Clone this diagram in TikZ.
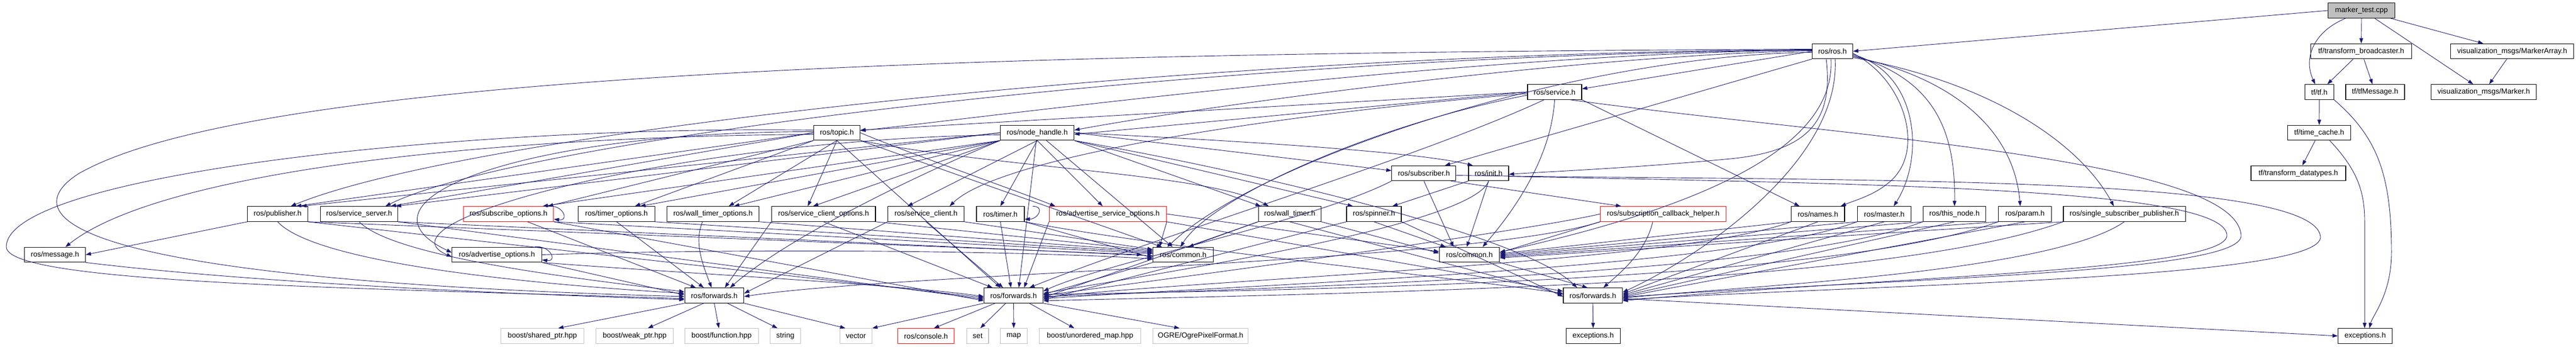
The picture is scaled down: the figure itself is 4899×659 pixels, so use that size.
\documentclass[tikz,border=0pt]{standalone}
\usepackage{fontspec}
\setmainfont{Liberation Sans}
\usetikzlibrary{arrows.meta}
\definecolor{edgec}{HTML}{191970}
\definecolor{grayb}{HTML}{BFBFBF}
\definecolor{fillg}{HTML}{BFBFBF}
\newcommand\labfont{\fontsize{14}{16}\selectfont}
\begin{document}
\begin{tikzpicture}[x=1pt,y=-1pt,
  box/.style={draw=black, line width=1.1pt, fill=white, minimum height=28.5pt, inner sep=0pt, font=\labfont, text=black},
  gbox/.style={box, draw=grayb},
  rbox/.style={box, draw=red},
  edge/.style={draw=edgec, line width=0.9pt, -{Triangle[length=10pt,width=7pt]}}]
\useasboundingbox[fill=white] (0,0) rectangle (4899,659);
% rank 0-4
\node[box, fill=fillg, minimum width=127pt] (mt) at (4491,20) {marker\_test.cpp};
\node[box, minimum width=77pt] (ros) at (3485,97.5) {ros/ros.h};
\node[box, minimum width=192pt] (tfb) at (4490.5,97.5) {tf/transform\_broadcaster.h};
\node[box, minimum width=234pt] (mka) at (4777.7,97.5) {visualization\_msgs/MarkerArray.h};
\node[box, minimum width=103pt] (svc) at (2956.5,175) {ros/service.h};
\node[box, minimum width=55pt] (tfh) at (4410.9,175) {tf/tf.h};
\node[box, minimum width=112pt] (tfm) at (4516.9,175) {tf/tfMessage.h};
\node[box, minimum width=200pt] (mk) at (4723.5,175) {visualization\_msgs/Marker.h};
\node[box, minimum width=88pt] (topic) at (1591.6,252.5) {ros/topic.h};
\node[box, minimum width=140pt] (nh) at (1972.6,252.5) {ros/node\_handle.h};
\node[box, minimum width=120pt] (tc) at (4410.6,252.5) {tf/time\_cache.h};
\node[box, minimum width=122pt] (sub) at (2707.9,329.5) {ros/subscriber.h};
\node[box, minimum width=76pt] (init) at (2831,329.5) {ros/init.h};
\node[box, minimum width=180pt] (td) at (4370.9,329.5) {tf/transform\_datatypes.h};
% rank 5
\node[box, minimum width=114.5pt] (pub) at (528,407) {ros/publisher.h};
\node[box, minimum width=147.4pt] (ss) at (683,407) {ros/service\_server.h};
\node[rbox, minimum width=171.5pt] (so) at (967,407) {ros/subscribe\_options.h};
\node[box, minimum width=145.4pt] (to) at (1172.5,407) {ros/timer\_options.h};
\node[box, minimum width=175.7pt] (wto) at (1356,407) {ros/wall\_timer\_options.h};
\node[box, minimum width=197.6pt] (sco) at (1566.2,407) {ros/service\_client\_options.h};
\node[box, minimum width=145pt] (sc) at (1761,407) {ros/service\_client.h};
\node[box, minimum width=91pt] (timer) at (1902.5,407) {ros/timer.h};
\node[rbox, minimum width=222.8pt] (aso) at (2107,407) {ros/advertise\_service\_options.h};
\node[box, minimum width=119.2pt] (wt) at (2452.7,407) {ros/wall\_timer.h};
\node[box, minimum width=104pt] (spin) at (2613,407) {ros/spinner.h};
\node[rbox, minimum width=239pt] (sch) at (3163.1,407) {ros/subscription\_callback\_helper.h};
\node[box, minimum width=101.4pt] (names) at (3457.3,407) {ros/names.h};
\node[box, minimum width=102.5pt] (master) at (3583.4,407) {ros/master.h};
\node[box, minimum width=119.7pt] (thisn) at (3717,407) {ros/this\_node.h};
\node[box, minimum width=100.4pt] (param) at (3851.1,407) {ros/param.h};
\node[box, minimum width=232pt] (ssp) at (4040,407) {ros/single\_subscriber\_publisher.h};
% rank 6
\node[box, minimum width=116pt] (msg) at (104.5,484.5) {ros/message.h};
\node[box, minimum width=170.5pt] (ao) at (945,484.5) {ros/advertise\_options.h};
\node[box, minimum width=114.5pt] (cm1) at (2250,484.5) {ros/common.h};
\node[box, minimum width=114.5pt] (cm2) at (2794.5,484.5) {ros/common.h};
% rank 7
\node[box, minimum width=112.4pt] (f1) at (1358.4,562) {ros/forwards.h};
\node[box, minimum width=112pt] (f2) at (1927.6,562) {ros/forwards.h};
\node[box, minimum width=112.5pt] (f3) at (3029.2,562) {ros/forwards.h};
% rank 8
\node[gbox, minimum width=157.4pt] (bsp) at (1031.5,639) {boost/shared\_ptr.hpp};
\node[gbox, minimum width=146.4pt] (bwp) at (1207,639) {boost/weak\_ptr.hpp};
\node[gbox, minimum width=140pt] (bfn) at (1372.2,639) {boost/function.hpp};
\node[gbox, minimum width=57.5pt] (str) at (1493.5,639) {string};
\node[gbox, minimum width=61.2pt] (vec) at (1627.7,639) {vector};
\node[rbox, minimum width=107.2pt] (con) at (1761.1,639) {ros/console.h};
\node[gbox, minimum width=41.3pt] (set) at (1859.3,639) {set};
\node[gbox, minimum width=50.8pt] (map) at (1927.9,639) {map};
\node[gbox, minimum width=192.4pt] (um) at (2073,639) {boost/unordered\_map.hpp};
\node[gbox, minimum width=180.9pt] (ogre) at (2283.2,639) {OGRE/OgrePixelFormat.h};
\node[box, minimum width=103pt] (exc1) at (3029.8,639) {exceptions.h};
\node[box, minimum width=103pt] (exc2) at (4498,639) {exceptions.h};

% ---- top right
\draw[edge] (mt.west) -- (ros.east);
\draw[edge] ([xshift=-30pt]mt.south) .. controls (4400,60) and (4380,110) .. ([xshift=-8pt]tfh.north);
\draw[edge] (mt.south) -- (tfb.north);
\draw[edge] ([xshift=25pt]mt.south) -- ([xshift=-20pt]mk.north);
\draw[edge] ([xshift=55pt]mt.south) -- ([xshift=-55pt]mka.north);
\draw[edge] (tfb) -- (tfh);
\draw[edge] (tfb) -- (tfm);
\draw[edge] (mka) -- (mk);
\draw[edge] (tfh) -- (tc);
\draw[edge] (tfh.south east) .. controls (4520,260) and (4548,330) .. (4548,480) .. controls (4548,560) and (4512,600) .. ([xshift=8pt]exc2.north);
\draw[edge] (tc) -- (td);
\draw[edge] ([xshift=20pt]tc.south) .. controls (4480,320) and (4497,360) .. (4497,420) -- ([xshift=-1pt]exc2.north);

% ---- ros.h
\draw[edge] ([yshift=2pt]ros.west) .. controls (2800,100) and (1900,220) .. ([yshift=4pt]topic.east);
\draw[edge] ([yshift=1pt]ros.west) .. controls (3000,105) and (2300,200) .. ([yshift=5pt]nh.east);
\draw[edge] (ros.west) -- ([yshift=6pt]svc.east);
\draw[edge] ([yshift=3pt]ros.west) .. controls (2280,100) and (900,250) .. ([xshift=25pt]pub.north);
\draw[edge] ([yshift=2pt]ros.west) .. controls (2350,102) and (1000,260) .. ([xshift=50pt]ss.north);
\draw[edge] ([yshift=-2pt]ros.west) .. controls (3000,105) and (2400,300) .. ([xshift=-30pt]cm1.north);
\draw[edge] (ros.south west) -- ([xshift=40pt]sub.north);
\draw[edge] ([xshift=-12pt]ros.south) .. controls (3487,230) and (3440,290) .. (3280,303) .. controls (3100,320) and (2950,326) .. ([yshift=-2pt]init.east);
\draw[edge] ([yshift=-4pt]ros.east) .. controls (3620,150) and (3660,280) .. (3600,340) .. controls (3570,370) and (3530,380) .. ([xshift=-8pt]names.north east);
\draw[edge] ([yshift=-6pt]ros.east) .. controls (3650,140) and (3660,300) .. ([xshift=18pt]master.north);
\draw[edge] ([yshift=-8pt]ros.east) .. controls (3680,150) and (3719,250) .. (thisn.north);
\draw[edge] ([yshift=-10pt]ros.east) .. controls (3720,150) and (3830,250) .. ([xshift=-9pt]param.north);
\draw[edge] ([yshift=-12pt]ros.east) .. controls (3800,160) and (3960,280) .. ([xshift=-20pt]ssp.north);
\draw[edge] ([xshift=-3pt]ros.south) .. controls (3490,260) and (3300,380) .. ([yshift=5pt]cm2.east);
\draw[edge] ([xshift=5pt]ros.south) .. controls (3500,300) and (3250,480) .. ([yshift=6pt]f3.east);
\draw[edge] ([yshift=4pt]ros.west) .. controls (2000,100) and (500,130) .. (150,330) .. controls (40,400) and (60,530) .. ([yshift=-2pt]f1.west);

% ---- service.h
\draw[edge] (svc.west) -- ([yshift=5pt]topic.east);
\draw[edge] (svc.west) -- ([yshift=-3pt]nh.east);
\draw[edge] ([yshift=-3pt]svc.west) .. controls (2400,220) and (1900,300) .. ([xshift=45pt]sc.north);
\draw[edge] (svc.south east) -- ([xshift=-35pt]names.north);
\draw[edge] ([yshift=-6pt]svc.west) .. controls (2600,240) and (2300,380) .. ([xshift=-5pt]cm1.north);
\draw[edge] (svc.south) .. controls (2950,300) and (2880,400) .. ([xshift=25pt]cm2.north);
\draw[edge] ([xshift=-20pt]svc.south) .. controls (2700,300) and (2200,450) .. ([xshift=30pt]f2.north);
\draw[edge] ([xshift=30pt]svc.south) .. controls (3500,260) and (4250,300) .. (4262,447) .. controls (4270,520) and (3600,530) .. ([yshift=-3pt]f3.east);

% ---- topic.h
\draw[edge] ([yshift=-3pt]topic.west) .. controls (900,260) and (300,330) .. ([xshift=20pt]msg.north);
\draw[edge] (topic.west) -- ([xshift=35pt]pub.north);
\draw[edge] (topic.west) -- ([xshift=60pt]ss.north);
\draw[edge] (topic.south west) -- ([xshift=75pt]so.north);
\draw[edge] (topic.south west) -- ([xshift=35pt]to.north);
\draw[edge] (topic.south) -- ([xshift=30pt]wto.north);
\draw[edge] (topic.south) -- ([xshift=-30pt]sco.north);
\draw[edge] ([yshift=2pt]topic.west) .. controls (1000,250) and (650,380) .. ([yshift=4pt]ao.west);
\draw[edge] (topic.east) .. controls (1750,300) and (1900,350) .. ([xshift=-100pt]aso.north);
\draw[edge] (topic.south east) .. controls (1900,320) and (2300,330) .. ([xshift=-40pt]wt.north);
\draw[edge] (topic.south east) -- ([xshift=-40pt]cm1.north);
\draw[edge] ([yshift=5pt]topic.west) .. controls (900,238) and (10,330) .. (12,470) .. controls (15,540) and (700,548) .. ([yshift=-6pt]f1.west);
\draw[edge] (topic.south) -- ([xshift=-25pt]f2.north);

% ---- node_handle.h
\draw[edge] (nh.west) -- ([xshift=45pt]pub.north);
\draw[edge] (nh.west) -- ([xshift=70pt]ss.north);
\draw[edge] (nh.south west) -- ([xshift=65pt]so.north);
\draw[edge] (nh.south west) -- ([xshift=45pt]to.north);
\draw[edge] (nh.south west) -- ([xshift=40pt]wto.north);
\draw[edge] (nh.south west) -- ([xshift=-20pt]sco.north);
\draw[edge] (nh.south) -- ([xshift=-35pt]sc.north);
\draw[edge] (nh.south) -- (timer.north);
\draw[edge] (nh.south) -- ([xshift=-10pt]aso.north);
\draw[edge] (nh.south east) -- ([xshift=-55pt]wt.north);
\draw[edge] (nh.south east) -- ([xshift=-40pt]spin.north);
\draw[edge] (nh.east) -- ([yshift=5pt]sub.west);
\draw[edge] (nh.east) .. controls (2400,270) and (2700,290) .. ([xshift=-30pt]init.north);
\draw[edge] ([yshift=-4pt]nh.west) .. controls (1300,265) and (700,420) .. ([yshift=-4pt]ao.west);
\draw[edge] (nh) -- ([xshift=-20pt]cm1.north);
\draw[edge] (nh) -- ([xshift=10pt]f2.north);
\draw[edge] (nh.south west) .. controls (1750,330) and (1500,450) .. ([xshift=30pt]f1.north);
\draw[edge] (nh.south east) .. controls (2400,330) and (2900,450) .. ([xshift=-30pt]f3.north);

% ---- subscriber.h / init.h
\draw[edge] (sub.south) -- ([xshift=-30pt]cm2.north);
\draw[edge] ([xshift=-10pt]sub.south east) -- ([xshift=-80pt]sch.north);
\draw[edge] (sub.south west) .. controls (2500,420) and (2100,500) .. ([yshift=8pt]f2.east);
\draw[edge] ([yshift=-4pt]sub.east) .. controls (3500,345) and (4400,330) .. (4413,450) .. controls (4420,530) and (3600,540) .. ([yshift=-8pt]f3.east);
\draw[edge] (init.south west) -- ([xshift=35pt]spin.north);
\draw[edge] (init.south) -- ([xshift=-5pt]cm2.north);
\draw[edge] ([yshift=-6pt]init.east) .. controls (3600,350) and (4230,360) .. (4235,447) .. controls (4240,515) and (3600,525) .. ([yshift=-10pt]f3.east);
\draw[edge] (init.south) .. controls (2800,430) and (2200,520) .. ([yshift=4pt]f2.east);

% ---- rank 5 sources
\draw[edge] (pub.south west) -- (msg.east);
\draw[edge] (pub.south east) -- ([xshift=-20pt]cm1.west);
\draw[edge] (pub.south) .. controls (600,500) and (1000,540) .. ([yshift=4pt]f1.west);
\draw[edge] (pub.south east) -- ([yshift=-4pt]f2.west);
\draw[edge] (ss.south east) -- ([yshift=-2pt]cm1.west);
\draw[edge] (ss.south) .. controls (750,490) and (1100,530) .. ([yshift=7pt]f1.west);
\draw[edge] (ss.south east) -- ([yshift=-7pt]f2.west);
\draw[edge] ([xshift=-12pt]so.north east) .. controls +(30,-4) and +(30,4) .. ([yshift=5pt]so.south east);
\draw[edge] ([xshift=-50pt]so.south east) -- ([xshift=-35pt]f1.north);
\draw[edge] (so.south east) -- ([yshift=2pt]cm1.west);
\draw[edge] (so.south east) -- ([yshift=-10pt]f2.west);
\draw[edge] (to.south) -- ([xshift=-20pt]f1.north);
\draw[edge] (to.south east) -- ([yshift=4pt]cm1.west);
\draw[edge] ([xshift=-20pt]wto.south) .. controls (1320,460) and (1335,500) .. ([xshift=-5pt]f1.north);
\draw[edge] (wto.south east) -- ([yshift=6pt]cm1.west);
\draw[edge] (sco.south west) -- ([xshift=20pt]f1.north);
\draw[edge] (sco.south east) -- ([yshift=8pt]cm1.west);
\draw[edge] (sco.south) -- ([xshift=-40pt]f2.north);
\draw[edge] (sc.south) -- ([xshift=-20pt]f2.north);
\draw[edge] (sc.south east) -- ([yshift=10pt]cm1.west);
\draw[edge] (sc.south west) -- ([yshift=4pt]f1.east);
\draw[edge] ([xshift=15pt]timer.north east) .. controls +(25,0) and +(25,0) .. ([yshift=5pt]timer.south east);
\draw[edge] (timer.south) -- ([xshift=-5pt]f2.north);
\draw[edge] (timer.south east) -- ([yshift=-6pt]cm1.west);
\draw[edge] (timer.south east) .. controls (2200,470) and (2700,520) .. ([yshift=4pt]f3.west);
\draw[edge] (aso.south west) -- ([xshift=20pt]f2.north);
\draw[edge] (aso.south east) -- ([xshift=-45pt]cm1.north);
\draw[edge] (aso.east) -- ([yshift=6pt]cm2.west);
\draw[edge] (aso.south east) -- ([yshift=8pt]f3.west);
\draw[edge] (wt.south west) -- ([xshift=10pt]cm1.north);
\draw[edge] (wt.south west) -- ([yshift=-4pt]f2.east);
\draw[edge] (wt.south) -- ([yshift=2pt]f3.west);
\draw[edge] (wt.south east) -- ([yshift=3pt]cm2.west);
\draw[edge] (spin.south) -- ([xshift=-45pt]cm2.north);
\draw[edge] (spin.south east) -- ([yshift=-2pt]f3.west);
\draw[edge] (spin.south west) -- ([yshift=-8pt]f2.east);
\draw[edge] (sch.south west) -- ([yshift=4pt]cm2.east);
\draw[edge] ([xshift=-20pt]sch.south) .. controls (3130,480) and (3080,520) .. ([xshift=20pt]f3.north);
\draw[edge] (sch.west) .. controls (2900,440) and (2300,520) .. (f2.east);
\draw[edge] (sch.south west) .. controls (2800,500) and (1700,520) .. ([yshift=-2pt]f1.east);
\draw[edge] (names.south west) -- ([yshift=2pt]cm2.east);
\draw[edge] (names.south) -- ([yshift=3pt]f3.east);
\draw[edge] (names.south west) .. controls (3200,500) and (2300,530) .. ([yshift=-4pt]f2.east);
\draw[edge] (master.south west) -- ([yshift=0pt]cm2.east);
\draw[edge] (master.south) -- ([yshift=1pt]f3.east);
\draw[edge] (master.south west) .. controls (3300,510) and (2400,540) .. ([yshift=-6pt]f2.east);
\draw[edge] (thisn.south west) -- ([yshift=-2pt]cm2.east);
\draw[edge] (thisn.south) -- ([yshift=-1pt]f3.east);
\draw[edge] (thisn.south west) .. controls (3400,520) and (2500,545) .. ([yshift=-2pt]f2.east);
\draw[edge] (param.south west) -- ([yshift=-4pt]cm2.east);
\draw[edge] (param.south) -- ([yshift=-3pt]f3.east);
\draw[edge] (param.south west) .. controls (3500,530) and (2600,550) .. ([yshift=2pt]f2.east);
\draw[edge] (ssp.south west) -- ([yshift=-6pt]cm2.east);
\draw[edge] (ssp.south) .. controls (3900,520) and (3300,545) .. ([yshift=-5pt]f3.east);
\draw[edge] (ssp.south west) .. controls (3600,540) and (2700,555) .. ([yshift=-10pt]f2.east);

% ---- rank 6 sources
\draw[edge] (msg.south east) .. controls (500,540) and (1000,560) .. ([yshift=-8pt]f1.west);
\draw[edge] ([xshift=-14pt]ao.north east) .. controls +(30,-4) and +(30,4) .. ([yshift=5pt]ao.south east);
\draw[edge] (ao.south east) -- ([yshift=1pt]f1.west);
\draw[edge] (ao.east) .. controls (1500,470) and (2000,480) .. ([yshift=-8pt]cm1.west);
\draw[edge] (ao.south east) .. controls (1300,520) and (1700,540) .. ([yshift=-2pt]f2.west);
\draw[edge] (cm1.south west) -- ([yshift=2pt]f2.east);
\draw[edge] (cm2.south east) -- ([xshift=-10pt]f3.north);

% ---- forwards
\draw[edge] (f1.south west) -- ([xshift=30pt]bsp.north);
\draw[edge] ([xshift=-20pt]f1.south) -- ([xshift=25pt]bwp.north);
\draw[edge] (f1.south) -- ([xshift=-5pt]bfn.north);
\draw[edge] ([xshift=25pt]f1.south) -- ([xshift=-15pt]str.north);
\draw[edge] (f1.south east) -- ([xshift=-20pt]vec.north);
\draw[edge] (f2.south west) -- (vec.north east);
\draw[edge] ([xshift=-35pt]f2.south) -- ([xshift=15pt]con.north);
\draw[edge] ([xshift=-15pt]f2.south) -- ([xshift=5pt]set.north);
\draw[edge] (f2.south) -- (map.north);
\draw[edge] ([xshift=30pt]f2.south) -- ([xshift=-30pt]um.north);
\draw[edge] (f2.south east) -- ([xshift=-40pt]ogre.north);
\draw[edge] (f3.south) -- (exc1.north);
\draw[edge] ([yshift=-6pt]f3.east) -- (exc2.west);
\end{tikzpicture}
\end{document}
